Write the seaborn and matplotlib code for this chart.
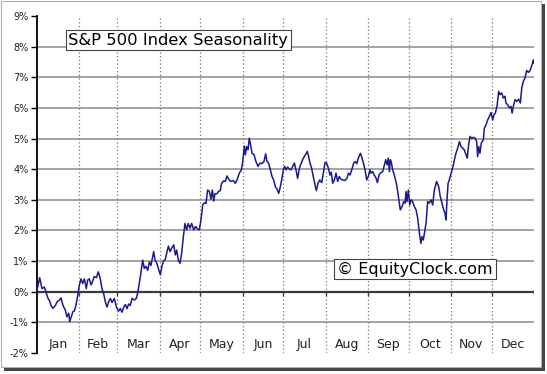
import numpy as np
import pandas as pd
import matplotlib
matplotlib.use("Agg")
import matplotlib.pyplot as plt
from matplotlib.patches import Rectangle
import seaborn as sns

# ---- data (day of year, cumulative % change) ----
days = [0, 1.96, 3.67, 5.4, 6.9, 8.1, 9.3, 10.3, 11.75, 13.5, 14.7, 16.6, 17.6, 19.1, 20.8, 22, 23.3, 24,
        25.2, 26.4, 27.4, 28.6, 29.9, 31.1, 32.3, 33.5, 34.8, 36.2, 37.2, 38.4, 39.7, 40.9, 42.1, 43.6, 45,
        46.5, 47.7, 49, 50.2, 51.4, 52.6, 53.9, 55.1, 56.8, 58.3, 60, 61.2, 62.4, 63.7, 64.9, 66.1, 67.3,
        68.5, 69.8, 71.5, 72.9,
        73.9, 75.9, 77.6, 78.8, 80, 81.3, 82.5, 83.7, 84.9, 85.7, 86.7, 88.1, 89.1, 90.6, 91.6, 92.8, 94.2,
        95.5, 96.5, 97.7, 98.9, 100.4, 101.6, 102.6, 103.8, 105, 106.2, 107.5, 108.7, 109.9, 111.1, 112.4,
        113.6, 115.1, 116.5, 118, 119.2, 120.4, 121.7, 122.9, 124.1, 125.3, 126.6, 127.8, 128.8, 129.8,
        130.7, 132.2, 133.2, 134.6, 135.6, 137.1, 138.3, 139.5,
        140.8, 142.5, 144.2, 145.7, 146.9, 148.6, 150.1, 151.1, 152.3, 153, 154, 155, 155.9, 156.9, 157.9,
        159.4, 160.8, 162.3, 163.8, 165.2, 166.7, 167.9, 168.9, 170.1, 171.4, 172.6, 173.8, 175, 176.3,
        177.5, 178.7, 179.9, 180.9, 181.9, 182.9, 184.1, 185.3, 186.5, 187.8, 189, 190.2, 191.4, 192.7,
        194.1, 195.6, 197.1, 198.5, 199.5, 200.5, 201.7, 202.9, 204.2, 205.1, 206.4, 207.6, 209.1, 210.3,
        211.5, 212.7, 214, 215.2, 216.1, 217.2,
        218.4, 219.6, 220.8, 222, 223.3, 224.5, 226.2, 227.7, 228.7, 229.9, 231.3, 232.6, 233.8, 234.8,
        236, 237.5, 238.4, 239.7, 240.9, 242.1, 243.3, 244.6, 245.3, 246.5, 247.7, 249, 250, 251.2, 252.6,
        253.9, 255.1, 256.1, 257.1, 258, 258.8, 259.5, 260.2, 261.2, 262.4, 263.9, 264.9, 265.9, 266.8,
        268.1, 269.3, 270.3, 271, 271.7, 272.7, 273.7, 274.7, 275.9, 277.1, 278.4, 279.6, 280.3, 281, 282,
        282.8, 283.7, 284.5, 285.7,
        286.9, 288.1, 289.4, 290.6, 291.8, 293.5, 295, 296.2, 297.4, 298.4, 299.6, 300.4, 301.1, 301.9,
        302.8, 303.8, 304.8, 305.8, 306.8, 307.7, 309, 310.2, 311.4, 312.6, 313.8, 315.1, 316, 317, 318,
        319.2, 320.4, 321.9, 322.9, 323.6, 324.4, 325.3, 326.3, 327.8, 328.5, 329.8, 331, 332.2, 333.4,
        334.7, 335.6, 336.6, 337.8, 339.1, 340, 341.3, 342.5, 343.7, 344.4, 345.7, 346.9, 348.1, 348.9,
        349.8, 351.1, 352.3, 353.7, 355, 356, 357.2, 358.4, 359.6, 360.9, 362.1, 363.5, 364.5, 365]

values = [0.05, 0.46, 0.1, 0.15, -0.05, -0.22, -0.3, -0.45, -0.54, -0.45, -0.33, -0.27, -0.2, -0.45, -0.6,
          -0.82, -0.7, -0.98, -0.82, -0.65, -0.63, -0.45, -0.13, 0.22, 0.42, 0.27, 0.42, 0.1, 0.38, 0.42,
          0.22, 0.35, 0.5, 0.46, 0.65, 0.42, 0.1, -0.07, -0.33, -0.5, -0.33, -0.22, -0.35, -0.22, -0.5,
          -0.63, -0.55, -0.67, -0.5, -0.42, -0.55, -0.4, -0.45, -0.22, -0.27, -0.22,
          -0.05, 0.49, 1.03, 0.76, 0.83, 0.7, 0.97, 0.86, 1.14, 1.31, 1.03, 0.92, 0.76, 0.55, 0.8, 1.0, 1.05,
          1.31, 1.49, 1.31, 1.42, 1.53, 1.2, 1.36, 1.03, 0.93, 1.25, 1.8, 2.23, 2.02, 2.23, 2.07,
          2.23, 2.02, 2.13, 2.04, 2.02, 2.34, 2.83, 2.9, 2.88, 3.32, 3.27, 3.02, 3.32, 2.96,
          3.2, 3.2, 3.27, 3.3, 3.54, 3.62, 3.6, 3.78,
          3.67, 3.6, 3.63, 3.54, 3.65, 3.87, 3.98, 4.25, 4.76, 4.47, 4.74, 4.63, 5.01, 4.8, 4.52,
          4.47, 4.25, 4.09, 4.2, 4.18, 4.25, 4.5, 4.25, 4.2, 3.98, 3.76, 3.65, 3.43, 3.35,
          3.21, 3.43, 3.7, 3.98, 4.09, 3.98, 4.07, 4.0, 3.98, 4.09, 4.2, 3.98, 3.7, 4.03,
          4.2, 4.36, 4.47, 4.58, 4.41, 4.2, 4.03, 3.76, 3.49, 3.3, 3.54, 3.65, 3.56, 3.87,
          4.22, 4.2, 4.03, 3.81, 3.9, 3.54,
          3.65, 3.87, 3.6, 3.76, 3.67, 3.65, 3.63, 3.71, 3.87, 3.81, 4.0, 4.2, 4.25, 4.18,
          4.36, 4.52, 4.41, 4.2, 3.98, 3.65, 3.76, 3.98, 3.87, 3.92, 3.81, 3.71, 3.56, 3.81, 3.89,
          3.92, 4.14, 4.31, 4.14, 4.36, 3.92, 4.31, 4.23, 3.98, 3.81, 3.54, 3.27, 2.94, 2.67,
          2.78, 2.94, 2.89, 3.27, 2.94, 3.32, 2.83, 3.0, 2.94, 2.78, 2.67, 2.4, 2.13, 1.85, 1.58,
          1.8, 1.69, 1.91, 2.23,
          2.94, 2.89, 3.0, 2.83, 3.32, 3.6, 3.43, 3.1, 2.89, 2.72, 2.56, 2.34, 3.0, 3.54,
          3.65, 3.81, 3.98, 4.14, 4.36, 4.52, 4.69, 4.9, 4.74, 4.69, 4.63, 4.47, 4.36, 4.8, 5.07,
          5.01, 5.04, 5.01, 4.9, 4.41, 4.74, 4.52, 4.85, 4.96, 5.34, 5.45, 5.61, 5.72, 5.85,
          5.61, 5.78, 5.83, 6.05, 6.54, 6.43, 6.49, 6.32, 6.38, 6.16, 6.1, 6.0, 6.05, 5.83,
          6.05, 6.27, 6.21, 6.29, 6.16, 6.65, 6.87, 6.98, 7.22, 7.16, 7.22, 7.4, 7.57, 7.45]

months = ["Jan", "Feb", "Mar", "Apr", "May", "Jun", "Jul", "Aug", "Sep", "Oct", "Nov", "Dec"]
month_starts = [0, 31, 59, 90, 120, 151, 181, 212, 243, 273, 304, 334, 365]
y_ticks = [-2, -1, 0, 1, 2, 3, 4, 5, 6, 7, 8, 9]
y_labels = [f"{v}%" for v in y_ticks]
title_text = "S&P 500 Index Seasonality"
watermark_text = "\u00a9 EquityClock.com"

df = pd.DataFrame({"day": days, "pct": values})

sns.set_style("white")
plt.rcParams["font.family"] = ["DejaVu Sans"]

W, H = 547, 374
fig = plt.figure(figsize=(W / 100, H / 100), dpi=100)
fig.patch.set_facecolor("white")

# frame with drop shadow
fig.patches.append(Rectangle((4 / W, 3 / H), 541 / W, 367 / H, transform=fig.transFigure,
                             facecolor="#444444", edgecolor="none", zorder=-2))
fig.patches.append(Rectangle((1 / W, 7 / H), 540 / W, 366 / H, transform=fig.transFigure,
                             facecolor="white", edgecolor="#b0b0b0", lw=0.8, zorder=-1))

ax = fig.add_axes([37 / W, (H - 353) / H, (534 - 37) / W, (353 - 16) / H])
ax.set_facecolor("none")

ax.set_xlim(month_starts[0], month_starts[-1])
ax.set_ylim(y_ticks[0], y_ticks[-1])

# horizontal grid lines
for v in y_ticks[1:-1]:
    if v == 0:
        ax.axhline(v, color="#3a3a3a", lw=1.6, zorder=1)
    else:
        ax.axhline(v, color="#8a8a8a", lw=1.1, zorder=1)

# vertical dotted month separators
for d in month_starts[1:-1]:
    ax.axvline(d, color="#777777", lw=0.9, ls=(0, (1, 2)), zorder=1)
    ax.plot([d, d], [-0.12, 0.0], color="#3a3a3a", lw=1.0, zorder=2)
ax.plot([month_starts[-1]] * 2, [-0.12, 0.0], color="#3a3a3a", lw=1.0, zorder=2)

sns.lineplot(data=df, x="day", y="pct", color="#1a1a8c", lw=1.1, ax=ax, zorder=3)

# month labels inside the bottom band
for i, m in enumerate(months):
    c = (month_starts[i] + month_starts[i + 1]) / 2
    ax.text(c, 0.026, m, transform=ax.get_xaxis_transform(), ha="center", va="center",
            fontsize=9, color="#222222")

ax.set_xticks([])
ax.set_yticks(y_ticks)
ax.set_yticklabels(y_labels, fontsize=7, color="#222222")
ax.tick_params(axis="y", direction="out", length=4, width=1.0, color="black", pad=2, left=True)
ax.set_xlabel("")
ax.set_ylabel("")
for s in ["top", "right", "bottom"]:
    ax.spines[s].set_visible(False)
ax.spines["left"].set_color("black")
ax.spines["left"].set_linewidth(1.3)

fig.text(178.5 / W, 1 - 40 / H, title_text, ha="center", va="center", fontsize=11.8, color="black",
         bbox=dict(boxstyle="square,pad=0.18", facecolor="white", edgecolor="#444444", lw=0.8))
fig.text(415 / W, 1 - 269 / H, watermark_text, ha="center", va="center", fontsize=11.6, color="black",
         bbox=dict(boxstyle="square,pad=0.18", facecolor="white", edgecolor="#444444", lw=0.8))

fig.savefig("out.png", dpi=100, facecolor=fig.get_facecolor())
